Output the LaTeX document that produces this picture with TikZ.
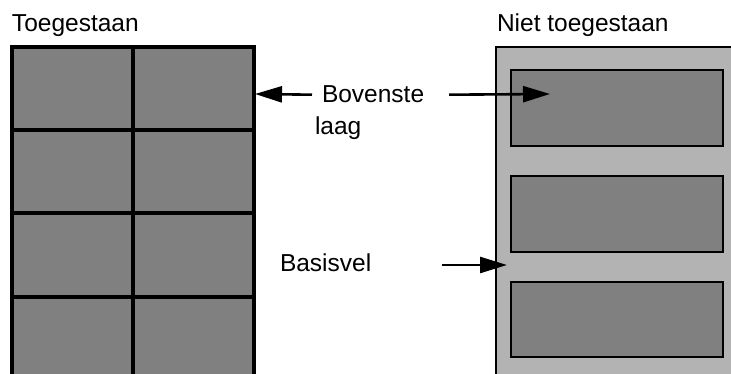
\documentclass[tikz,border=0pt]{standalone}
\usepackage{fontspec}
\setmainfont{Liberation Sans}
\usetikzlibrary{positioning,arrows.meta,calc}
\definecolor{tiledark}{HTML}{808080}
\definecolor{sheetlight}{HTML}{B3B3B3}

\begin{document}
\begin{tikzpicture}[x=1pt, y=-1pt,
      tile/.style={fill=tiledark, draw=black, line width=2.2pt},
      sheet/.style={fill=sheetlight, draw=black, line width=2.8pt},
      lbl/.style={font=\fontsize{24.5}{28}\selectfont, inner sep=0pt, outer sep=0pt, anchor=base west},
      pointer/.style={line width=2.6pt, -{Triangle[length=27pt, width=16pt]}}]
    \useasboundingbox (0,0) rectangle (731,374);
    \clip (0,0) rectangle (731,374);
    % allowed: tiles cover the whole sheet
    \fill[tiledark] (12,47) rectangle (254,390);
    \draw[line width=3.2pt] (12,390) -- (12,47) -- (254,47) -- (254,390) (133,47) -- (133,390);
    \foreach \ry in {130,213,297}
      \draw[line width=3.2pt] (12,\ry) -- (254,\ry);
    % not allowed: tiles leave the base sheet visible
    \fill[sheetlight] (496,47) rectangle (760,390);
    \draw[sheet] (496,390) -- (496,47) -- (760,47);
    \foreach \ty/\by in {70/146, 176/252, 282/357}
      \draw[tile] (511,\ty) rectangle (723,\by);
    % labels
    \node[lbl] (allowed) at (12,32) {Toegestaan};
    \node[lbl] (denied) at (497,32) {Niet toegestaan};
    \node[lbl] (bov) at (322,103) {Bovenste};
    \node[lbl] (laag) at (315,135) {laag};
    \node[lbl] (basis) at (280,272) {Basisvel};
    \coordinate (gridedge) at (255,94);
    \coordinate (tilehit) at (550,94);
    \coordinate (sheetedge) at (507,265);
    \coordinate (basistail) at (442,265);
    \draw[pointer] ([xshift=-10pt]bov.west) -- (gridedge);
    \draw[pointer] ([xshift=25pt]bov.east) -- (tilehit);
    \draw[pointer] (basistail) -- (sheetedge);
\end{tikzpicture}
\end{document}
